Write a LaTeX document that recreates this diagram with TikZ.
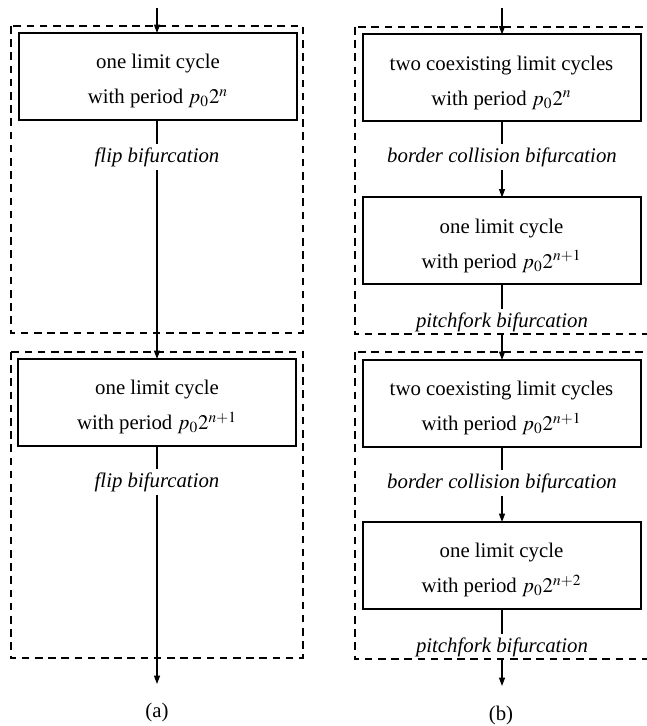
\documentclass[tikz,border=0pt]{standalone}
\usepackage{mathptmx}
\usepackage{fontspec}
\setmainfont{Liberation Serif}
\usetikzlibrary{arrows.meta}
\begin{document}
\begin{tikzpicture}[x=0.5pt,y=-0.5pt,
  every node/.style={font=\fontsize{10.4}{17.5}\selectfont},
  statebox/.style={draw,line width=1pt,minimum width=139pt,minimum height=43.5pt,
    inner sep=0pt,outer sep=0pt,align=center},
  bif/.style={font=\fontsize{10.4}{12}\selectfont\itshape,inner xsep=2pt,inner ysep=1.5pt,
    text height=7.3pt,text depth=2.2pt},
  flow/.style={line width=0.6pt},
  flowarrow/.style={line width=0.6pt,-{Triangle[length=4.2pt,width=3pt]}},
  frame/.style={line width=0.55pt,dash pattern=on 3.8pt off 2.8pt}]
\useasboundingbox (0,0) rectangle (646,726);
% dashed frames
\draw[frame] (11,26) rectangle (303,333);
\draw[frame] (11,352) rectangle (303,658);
\draw[frame] (355,27) rectangle (654,334);
\draw[frame] (355,352) rectangle (654,659);
% left column
\coordinate (as) at (157,8);
\node[statebox] (A1) at (158,76.5) {\rule{0pt}{12pt}one limit cycle\\ with period $p_0 2^n$};
\node[bif] (la1) at (157,157) {flip bifurcation};
\node[statebox] (A2) at (157,402.5) {\rule{0pt}{12pt}one limit cycle\\ with period $p_0 2^{n+1}$};
\node[bif] (la2) at (157,482) {flip bifurcation};
\coordinate (ae) at (157,684);
\node (capa) at (157,712) {(a)};
\draw[flowarrow] (as) -- (as|-A1.north);
\draw[flow] (A1.south-|la1) -- (la1);
\draw[flowarrow] (la1) -- (la1|-A2.north);
\draw[flow] (A2.south-|la2) -- (la2);
\draw[flowarrow] (la2) -- (ae);
% right column
\coordinate (bs) at (502,8);
\node[statebox] (B1) at (501.5,78) {\rule{0pt}{12pt}two coexisting limit cycles\\ with period $p_0 2^n$};
\node[bif] (lb1) at (502,157) {border collision bifurcation};
\node[statebox] (B2) at (501.5,241) {\rule{0pt}{12pt}one limit cycle\\ with period $p_0 2^{n+1}$};
\node[bif] (lb2) at (502,322) {pitchfork bifurcation};
\node[statebox] (B3) at (501.5,403.5) {\rule{0pt}{12pt}two coexisting limit cycles\\ with period $p_0 2^{n+1}$};
\node[bif] (lb3) at (502,483) {border collision bifurcation};
\node[statebox] (B4) at (501.5,565.5) {\rule{0pt}{12pt}one limit cycle\\ with period $p_0 2^{n+2}$};
\node[bif] (lb4) at (502,647) {pitchfork bifurcation};
\coordinate (be) at (502,686);
\node (capb) at (501,715) {(b)};
\draw[flowarrow] (bs) -- (bs|-B1.north);
\draw[flow] (B1.south-|lb1) -- (lb1);
\draw[flowarrow] (lb1) -- (lb1|-B2.north);
\draw[flow] (B2.south-|lb2) -- (lb2);
\draw[flowarrow] (lb2) -- (lb2|-B3.north);
\draw[flow] (B3.south-|lb3) -- (lb3);
\draw[flowarrow] (lb3) -- (lb3|-B4.north);
\draw[flow] (B4.south-|lb4) -- (lb4);
\draw[flowarrow] (lb4) -- (be);
\end{tikzpicture}
\end{document}
